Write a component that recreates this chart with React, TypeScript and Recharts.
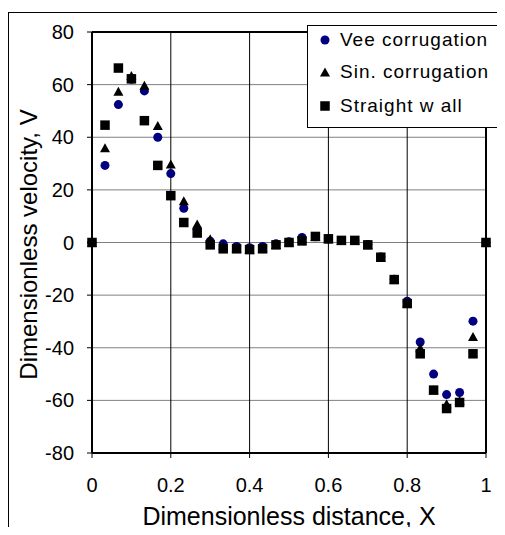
import React from 'react';
import {
  ScatterChart,
  Scatter,
  XAxis,
  YAxis,
  CartesianGrid,
  ReferenceLine,
  Legend,
  Label,
} from 'recharts';

const FONT = '"Liberation Sans", Arial, sans-serif';

const xPositions = [
  0, 0.033, 0.067, 0.1, 0.133, 0.167, 0.2, 0.233, 0.267, 0.3, 0.333, 0.367, 0.4, 0.433, 0.467,
  0.5, 0.533, 0.567, 0.6, 0.633, 0.667, 0.7, 0.733, 0.767, 0.8, 0.833, 0.867, 0.9, 0.933, 0.967, 1,
];
const veeValues = [
  0, 29.3, 52.4, 62, 57.6, 40, 26.2, 13, 5, 0.5, -0.5, -1.5, -2, -1.5, -0.5,
  0.3, 1.9, 2.2, 1.3, 0.8, 0.8, -0.8, -5.5, -14, -22.3, -37.8, -50, -57.8, -57, -29.9, 0,
];
const sinValues = [
  0, 36, 57.5, 63.5, 59.8, 44.5, 29.8, 15.9, 7, 1.4, -1, -2, -2.5, -2, -0.8,
  0.2, 1.5, 2.3, 1.4, 0.8, 0.8, -0.9, -5.6, -14, -23, -40, -56, -61.3, -60, -35.7, 0,
];
const straightValues = [
  0, 44.6, 66.3, 62.2, 46.3, 29.3, 17.8, 7.6, 3.6, -0.9, -2.4, -2.4, -2.7, -2.4, -0.9,
  0, 0.6, 2.3, 1.4, 0.8, 0.8, -0.9, -5.6, -14.1, -23.2, -42.3, -56.1, -63.1, -60.8, -42.3, 0,
];
const xTicks = [0, 0.2, 0.4, 0.6, 0.8, 1];
const yTicks = [-80, -60, -40, -20, 0, 20, 40, 60, 80];
const seriesNames = ['Vee corrugation', 'Sin. corrugation', 'Straight w all'];
const xTitle = 'Dimensionless distance, X';
const yTitle = 'Dimensionless velocity, V';

const toPoints = (vals: number[]) => xPositions.map((x, i) => ({ x, y: vals[i] }));
const veeData = toPoints(veeValues);
const sinData = toPoints(sinValues);
const straightData = toPoints(straightValues);

const drawMarker = (kind: number, cx: number, cy: number) => {
  if (kind === 0) return <circle cx={cx} cy={cy} r={4.5} fill="#000080" />;
  if (kind === 1)
    return (
      <polygon
        points={`${cx},${cy - 4.5} ${cx + 5},${cy + 4.5} ${cx - 5},${cy + 4.5}`}
        fill="#000"
      />
    );
  return <rect x={cx - 4.75} y={cy - 4.75} width={9.5} height={9.5} fill="#000" />;
};

const CircleShape = (p: any) => drawMarker(0, p.cx, p.cy);
const TriangleShape = (p: any) => drawMarker(1, p.cx, p.cy);
const SquareShape = (p: any) => drawMarker(2, p.cx, p.cy);

const rowCenters = [15, 47, 81];

const LegendBox = () => (
  <div
    style={{
      width: 192,
      height: 103,
      boxSizing: 'border-box',
      border: '1px solid #000',
      background: '#fff',
      position: 'relative',
      fontFamily: FONT,
      color: '#000',
    }}
  >
    {seriesNames.map((name, i) => (
      <div
        key={name}
        style={{
          position: 'absolute',
          left: 0,
          top: rowCenters[i] - 12 - 1,
          height: 24,
          display: 'flex',
          alignItems: 'center',
        }}
      >
        <svg width={32} height={24} style={{ display: 'block' }}>
          {drawMarker(i, 17, 12)}
        </svg>
        <span style={{ fontSize: 19, letterSpacing: 1.0, whiteSpace: 'nowrap', lineHeight: '24px' }}>
          {name}
        </span>
      </div>
    ))}
  </div>
);

const YTitle = (props: any) => {
  const vb = props.viewBox || { x: 0, y: 24, width: 84, height: 421 };
  const cx = vb.x + 29;
  const cy = vb.y + vb.height / 2 + 2;
  return (
    <text
      x={cx}
      y={cy}
      transform={`rotate(-90, ${cx}, ${cy})`}
      textAnchor="middle"
      fontSize={24}
      fontFamily={FONT}
      fill="#000"
    >
      {yTitle}
    </text>
  );
};

export default function App() {
  const tickStyle = { fontSize: 20, fill: '#000', fontFamily: FONT };
  return (
    <div
      style={{
        position: 'relative',
        width: 497,
        height: 527,
        marginBottom: -8,
        overflow: 'hidden',
        background: '#fff',
      }}
    >
      <div
        style={{
          position: 'absolute',
          left: 0,
          top: 4,
          width: 700,
          height: 700,
          border: '1px solid #000',
          boxSizing: 'border-box',
        }}
      />
      <div style={{ position: 'absolute', left: 0, top: 0 }}>
        <ScatterChart width={497} height={527} margin={{ top: 24, right: 19, left: 0, bottom: 0 }}>
          <CartesianGrid horizontal={true} vertical={false} stroke="#808080" strokeWidth={1} />
          <CartesianGrid horizontal={false} vertical={true} stroke="#000" strokeWidth={1} />
          <XAxis
            type="number"
            dataKey="x"
            domain={[0, 1]}
            ticks={xTicks}
            interval={0}
            tickSize={5}
            tickMargin={20}
            height={82}
            axisLine={{ stroke: '#000', strokeWidth: 2 }}
            tickLine={{ stroke: '#000' }}
            tick={tickStyle}
          >
            <Label
              value={xTitle}
              position="insideBottom"
              offset={10}
              style={{ fontSize: 25, fill: '#000', fontFamily: FONT }}
            />
          </XAxis>
          <YAxis
            type="number"
            dataKey="y"
            domain={[-80, 80]}
            ticks={yTicks}
            interval={0}
            tickSize={5}
            tickMargin={13}
            width={84}
            axisLine={{ stroke: '#000', strokeWidth: 2 }}
            tickLine={{ stroke: '#000' }}
            tick={tickStyle}
          >
            <Label content={YTitle} />
          </YAxis>
          <ReferenceLine y={80} stroke="#000" strokeWidth={2} />
          <ReferenceLine x={1} stroke="#000" strokeWidth={2} />
          <Scatter name={seriesNames[0]} data={veeData} shape={CircleShape} isAnimationActive={false} />
          <Scatter name={seriesNames[1]} data={sinData} shape={TriangleShape} isAnimationActive={false} />
          <Scatter name={seriesNames[2]} data={straightData} shape={SquareShape} isAnimationActive={false} />
          <Legend
            layout="vertical"
            align="center"
            verticalAlign="middle"
            content={LegendBox}
            wrapperStyle={{ left: 299, top: 17, width: 192, height: 103 }}
          />
        </ScatterChart>
      </div>
    </div>
  );
}
